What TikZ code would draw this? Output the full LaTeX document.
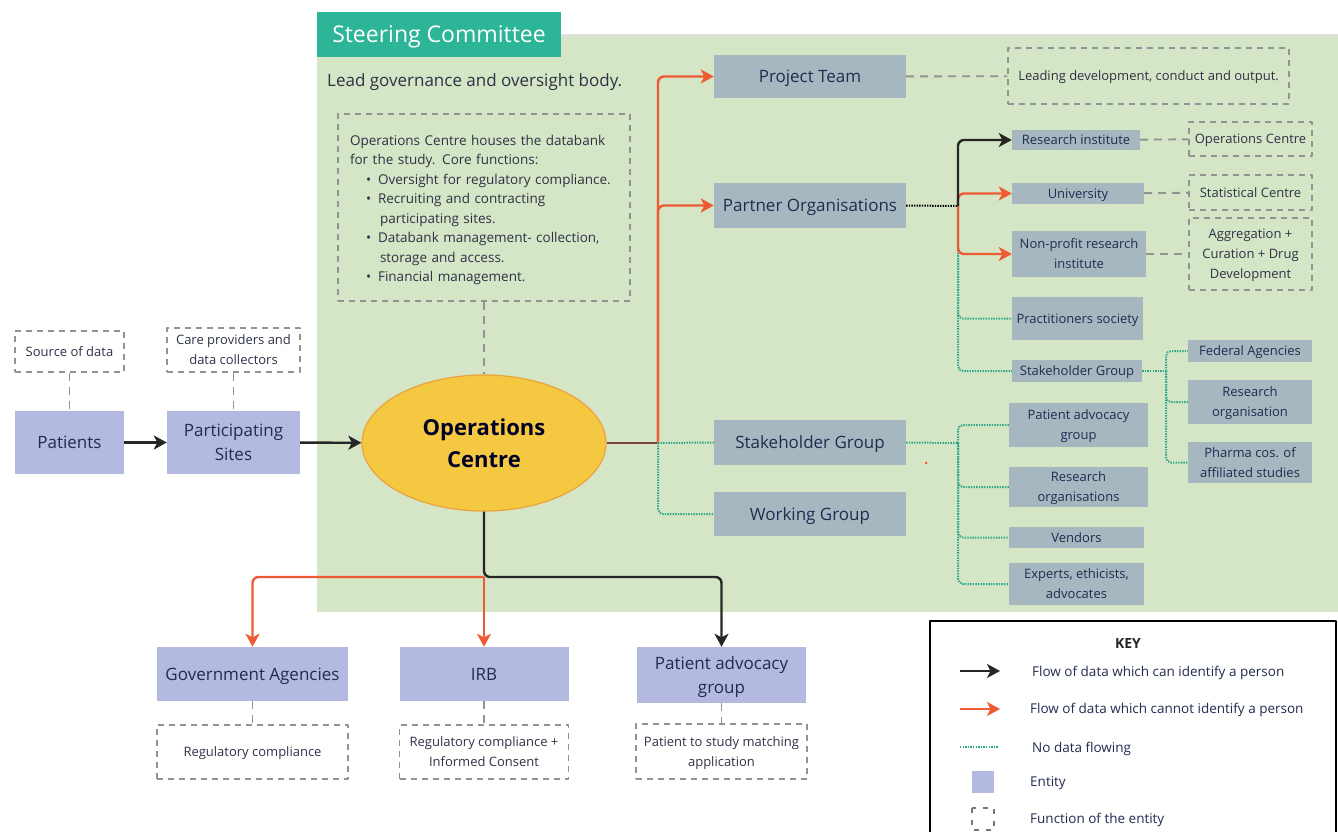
\documentclass[tikz,border=0pt]{standalone}
\usepackage{fontspec}
\setmainfont{Open Sans}
\usetikzlibrary{shapes.geometric,arrows.meta}
\definecolor{panelgreen}{HTML}{D4E6C6}
\definecolor{tabteal}{HTML}{2DB597}
\definecolor{slate}{HTML}{A6B7BF}
\definecolor{lavender}{HTML}{B4B9E1}
\definecolor{navy}{HTML}{232B52}
\definecolor{darktext}{HTML}{2E3246}
\definecolor{dashgray}{HTML}{939393}
\definecolor{flowred}{HTML}{EE5A33}
\definecolor{nodatateal}{HTML}{2BA88A}
\definecolor{opsyellow}{HTML}{F5C842}
\definecolor{opsedge}{HTML}{E9A33B}
\definecolor{mixline}{HTML}{7A4536}
\begin{document}
\begin{tikzpicture}[x=1pt, y=-1pt, line join=round,
    >={Stealth[length=13pt,width=14pt,inset=3.5pt]},
    entity/.style={fill=lavender, text=navy, align=center, inner sep=2pt, text depth=0pt, font=\fontsize{17}{24}\selectfont},
    member/.style={fill=slate, text=navy, align=center, inner sep=2pt, text depth=0pt, font=\fontsize{17}{24}\selectfont},
    submember/.style={member, font=\fontsize{13}{20}\selectfont},
    role/.style={draw=dashgray, line width=1.7pt, dash pattern=on 6pt off 5pt, text=darktext, align=center, inner sep=2pt, text depth=0pt, font=\fontsize{13}{20}\selectfont},
    rolelink/.style={draw=dashgray, line width=1.9pt, dash pattern=on 8pt off 6pt},
    idflow/.style={->, line width=2.4pt, black!85, rounded corners=6pt},
    anonflow/.style={->, line width=2.4pt, flowred, rounded corners=6pt},
    nodata/.style={line width=2pt, nodatateal, dash pattern=on 1.4pt off 1.2pt, rounded corners=5pt},
    keytext/.style={anchor=west, inner sep=0pt, text depth=0pt, text=navy, font=\fontsize{13.5}{16}\selectfont}]
\useasboundingbox (0,0) rectangle (1338,832);

% steering committee panel
\fill[panelgreen] (317,35) rectangle (1338,612);
\draw[black!12, line width=1.5pt] (561,35) -- (1338,35);
\node[fill=tabteal, text=white, minimum width=244pt, minimum height=45pt, inner sep=0pt, text depth=0pt,
    font=\fontsize{23}{26}\selectfont] (steer) at (439,34.5) {Steering Committee};
\node[anchor=west, inner sep=0pt, text depth=0pt, text=darktext, font=\fontsize{17}{20}\selectfont] (lead) at (327,80)
    {Lead governance and oversight body.};

\node[role, minimum width=292pt, minimum height=187pt, text width=268pt, align=left, text depth=135pt,
    font=\fontsize{13.5}{19.5}\selectfont] (desc) at (484,207.5)
    {Operations Centre houses the databank\\
     for the study. Core functions:\\
     \hspace*{16pt}\textbullet\hspace{7pt}Oversight for regulatory compliance.\\
     \hspace*{16pt}\textbullet\hspace{7pt}Recruiting and contracting\\
     \hspace*{30pt}participating sites.\\
     \hspace*{16pt}\textbullet\hspace{7pt}Databank management- collection,\\
     \hspace*{30pt}storage and access.\\
     \hspace*{16pt}\textbullet\hspace{7pt}Financial management.};

\node[ellipse, fill=opsyellow, draw=opsedge, line width=1.2pt, minimum width=244pt, minimum height=136pt,
    align=center, text=black!85!blue, font=\bfseries\fontsize{22}{32}\selectfont] (ops) at (484,443)
    {Operations\\Centre};

% data sources
\node[entity, minimum width=109pt, minimum height=63pt] (patients) at (69.5,442.5) {Patients};
\node[entity, minimum width=133pt, minimum height=63pt] (sites) at (233.5,442.5) {Participating\\Sites};
\node[role, minimum width=109pt, minimum height=41pt] (src) at (69.5,351.5) {Source of data};
\node[role, minimum width=133pt, minimum height=44pt] (care) at (233.5,350) {Care providers and\\data collectors};

% committees and groups
\node[member, minimum width=192pt, minimum height=43pt] (proj) at (810,76.5) {Project Team};
\node[member, minimum width=192pt, minimum height=45pt] (partner) at (810,205.5) {Partner Organisations};
\node[member, minimum width=192pt, minimum height=45pt] (stake) at (810,442.5) {Stakeholder Group};
\node[member, minimum width=192pt, minimum height=44pt] (work) at (810,514) {Working Group};
\node[role, minimum width=281pt, minimum height=56pt] (fLead) at (1148.5,76) {Leading development, conduct and output.};

% partner organisations
\node[submember, minimum width=128pt, minimum height=20pt] (ri) at (1076,140) {Research institute};
\node[submember, minimum width=132pt, minimum height=21pt] (uni) at (1078,193.5) {University};
\node[submember, minimum width=134pt, minimum height=46pt] (npri) at (1079,254) {Non-profit research\\institute};
\node[submember, minimum width=131pt, minimum height=43pt] (prac) at (1077.5,318.5) {Practitioners society};
\node[submember, minimum width=130pt, minimum height=22pt] (sg2) at (1077,371) {Stakeholder Group};
\node[role, minimum width=123pt, minimum height=34pt] (fOC) at (1250.5,139) {Operations Centre};
\node[role, minimum width=123pt, minimum height=35pt] (fSC) at (1250.5,192.5) {Statistical Centre};
\node[role, minimum width=123pt, minimum height=72pt] (fAgg) at (1250.5,254) {Aggregation +\\Curation + Drug\\Development};
\node[submember, minimum width=124pt, minimum height=22pt] (fed) at (1250,351) {Federal Agencies};
\node[submember, minimum width=124pt, minimum height=44pt] (reso) at (1250,402) {Research\\organisation};
\node[submember, minimum width=124pt, minimum height=41pt] (pharma) at (1250,462.5) {Pharma cos. of\\affiliated studies};

% stakeholder group
\node[submember, minimum width=139pt, minimum height=44pt] (pag2) at (1078.5,425) {Patient advocacy\\group};
\node[submember, minimum width=139pt, minimum height=40pt] (reso2) at (1078.5,487) {Research\\organisations};
\node[submember, minimum width=135pt, minimum height=21pt] (vend) at (1076.5,537.5) {Vendors};
\node[submember, minimum width=135pt, minimum height=42pt] (expt) at (1076.5,584) {Experts, ethicists,\\advocates};

% outside recipients
\node[entity, minimum width=191pt, minimum height=54pt] (gov) at (252.5,674) {Government Agencies};
\node[entity, minimum width=169pt, minimum height=54pt] (irb) at (484,674) {IRB};
\node[entity, minimum width=169pt, minimum height=56pt] (pag) at (721.5,675) {Patient advocacy\\group};
\node[role, minimum width=191pt, minimum height=54pt] (fgov) at (252.5,752) {Regulatory compliance};
\node[role, minimum width=169pt, minimum height=54pt] (firb) at (484,752) {Regulatory compliance +\\Informed Consent};
\node[role, minimum width=171pt, minimum height=55pt] (fpag) at (721.5,751.5) {Patient to study matching\\application};

% function links
\draw[rolelink] (src) -- (patients);
\draw[rolelink] (care) -- (sites);
\draw[rolelink] (desc) -- (ops);
\draw[rolelink] (proj) -- (fLead);
\draw[rolelink] (ri) -- (fOC);
\draw[rolelink] (uni) -- (fSC);
\draw[rolelink] (npri) -- (fAgg);
\draw[rolelink] (gov) -- (fgov);
\draw[rolelink] (irb) -- (firb);
\draw[rolelink] (pag) -- (fpag);

% data flows
\draw[idflow] (patients) -- (sites);
\draw[idflow] (sites) -- (ops);

\coordinate (opsR) at (658,443);
\draw[line width=2.4pt, mixline] (ops.east) -- (opsR);
\draw[anonflow] (opsR) |- (proj.west);
\draw[anonflow] (opsR) |- (partner.west);
\draw[nodata] (opsR) -- (stake.west);
\draw[nodata] (opsR) |- (work.west);

\coordinate (pJ) at (958,206);
\draw[nodata, black] (partner.east) -- (pJ);
\draw[nodata] (pJ) |- (prac.west);
\draw[nodata] (pJ) |- (sg2.west);
\draw[anonflow] (pJ) |- (npri.west);
\draw[anonflow] (pJ) |- (uni.west);
\draw[idflow] (pJ) |- (ri.west);

\coordinate (sgJ) at (1166,371);
\draw[nodata] (sg2.east) -- (sgJ);
\draw[nodata] (sgJ) |- (fed.west);
\draw[nodata] (sgJ) |- (reso.west);
\draw[nodata] (sgJ) |- (pharma.west);

\coordinate (sJ) at (958,443);
\draw[nodata] (stake.east) -- (sJ);
\draw[nodata] (sJ) |- (pag2.west);
\draw[nodata] (sJ) |- (reso2.west);
\draw[nodata] (sJ) |- (vend.west);
\draw[nodata] (sJ) |- (expt.west);

\coordinate (opsB) at (484,577);
\draw[idflow] (ops.south) -- (opsB) -| (pag.north);
\draw[anonflow] (opsB) -| (gov.north);
\draw[anonflow] (opsB) -- (irb.north);

\fill[flowred] (926,463) circle (1.5pt);

% key
\draw[line width=2pt, fill=white] (930,621) rectangle (1336,845);
\node[inner sep=0pt, text=black!85, font=\bfseries\fontsize{14}{16}\selectfont] (key) at (1128,643) {KEY};
\draw[idflow] (960,671) -- (1000,671);
\draw[anonflow] (960,709) -- (1000,709);
\draw[nodata, line width=1.4pt] (960,747) -- (998,747);
\fill[lavender] (972,771) rectangle (994,793);
\draw[dashgray!80!black, line width=1.5pt, dash pattern=on 5pt off 7pt] (972,808) rectangle (994,830);
\node[keytext] (k1) at (1032,671) {Flow of data which can identify a person};
\node[keytext] (k2) at (1030,708) {Flow of data which cannot identify a person};
\node[keytext] (k3) at (1032,747) {No data flowing};
\node[keytext] (k4) at (1030,782) {Entity};
\node[keytext] (k5) at (1030,818) {Function of the entity};
\end{tikzpicture}
\end{document}
